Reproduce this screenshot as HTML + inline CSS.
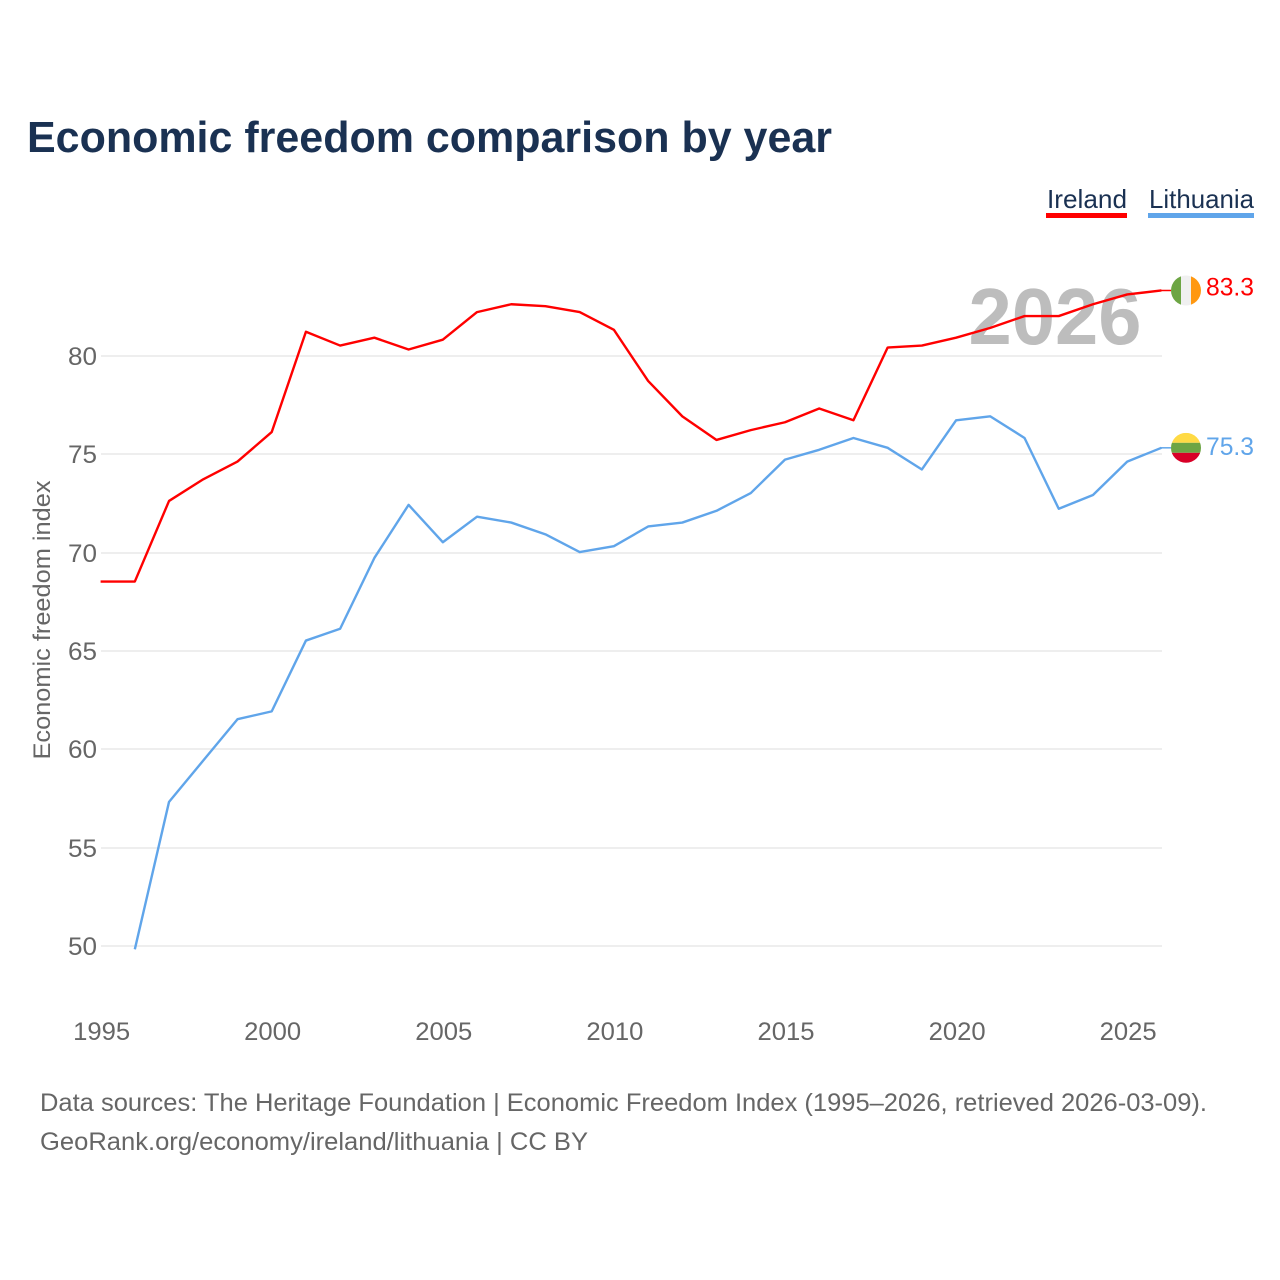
<!DOCTYPE html>
<html lang="en">
<head>
<meta charset="utf-8">
<title>Economic freedom comparison by year</title>
<style>
html,body{margin:0;padding:0;background:#fff;}
svg{display:block;font-family:"Liberation Sans",sans-serif;}
</style>
</head>
<body>
<svg id="chart" xmlns="http://www.w3.org/2000/svg" width="1280" height="1280" viewBox="0 0 1280 1280">
  <rect width="1280" height="1280" fill="#fff"/>
  <text x="27" y="152" font-size="44" font-weight="bold" fill="#1a3152" textLength="805" lengthAdjust="spacingAndGlyphs">Economic freedom comparison by year</text>

  <g>
    <text x="1047" y="208" font-size="26" fill="#1a3152" textLength="80" lengthAdjust="spacingAndGlyphs">Ireland</text>
    <rect x="1046" y="213" width="81" height="5" fill="#ff0000"/>
  </g>
  <g>
    <text x="1149" y="208" font-size="26" fill="#1a3152" textLength="105" lengthAdjust="spacingAndGlyphs">Lithuania</text>
    <rect x="1148" y="213" width="106" height="5" fill="#60a5ea"/>
  </g>

  <text x="1055" y="344" font-size="80" font-weight="bold" fill="#bdbdbd" text-anchor="middle" textLength="173" lengthAdjust="spacingAndGlyphs">2026</text>

  <g id="grid"></g>
  <g id="y-ticks"></g>
  <g id="x-ticks"></g>
  <text transform="translate(50,620) rotate(-90)" font-size="24" fill="#666" text-anchor="middle" textLength="279" lengthAdjust="spacingAndGlyphs">Economic freedom index</text>
  <g id="series"></g>

  <text x="40" y="1111" font-size="25" fill="#666" textLength="1167" lengthAdjust="spacingAndGlyphs">Data sources: The Heritage Foundation | Economic Freedom Index (1995–2026, retrieved 2026-03-09).</text>
  <text x="40" y="1150" font-size="25" fill="#666" textLength="548" lengthAdjust="spacingAndGlyphs">GeoRank.org/economy/ireland/lithuania | CC BY</text>
</svg>
<script>
var years = [1995,1996,1997,1998,1999,2000,2001,2002,2003,2004,2005,2006,2007,2008,2009,2010,2011,2012,2013,2014,2015,2016,2017,2018,2019,2020,2021,2022,2023,2024,2025,2026];
var irelandValues = [68.5,68.5,72.6,73.7,74.6,76.1,81.2,80.5,80.9,80.3,80.8,82.2,82.6,82.5,82.2,81.3,78.7,76.9,75.7,76.2,76.6,77.3,76.7,80.4,80.5,80.9,81.4,82,82,82.6,83.1,83.3];
var lithuaniaValues = [null,49.8,57.3,59.4,61.5,61.9,65.5,66.1,69.7,72.4,70.5,71.8,71.5,70.9,70,70.3,71.3,71.5,72.1,73,74.7,75.2,75.8,75.3,74.2,76.7,76.9,75.8,72.2,72.9,74.6,75.3];
var yTickValues = [50,55,60,65,70,75,80];
var xTickValues = [1995,2000,2005,2010,2015,2020,2025];

var NS = 'http://www.w3.org/2000/svg';
function xScale(year){ return 100.6 + (year - 1995) * 34.22; }
function yScale(value){ return 945.4 - (value - 50) * 19.667; }
function make(tag, attrs, parent, text){
  var el = document.createElementNS(NS, tag);
  for (var k in attrs) el.setAttribute(k, attrs[k]);
  if (text !== undefined) el.textContent = text;
  parent.appendChild(el);
  return el;
}

var gridG = document.getElementById('grid');
var yG = document.getElementById('y-ticks');
var xG = document.getElementById('x-ticks');
var seriesG = document.getElementById('series');

yTickValues.forEach(function(v){
  var gy = Math.round(yScale(v) + 0.6);
  var line = make('line', {x1:101, x2:1162, y1:gy, y2:gy, stroke:'#eeeeee', 'stroke-width':2}, gridG);
  
  
  var label = make('text', {x:97, y:gy+9, 'font-size':25, fill:'#666', 'text-anchor':'end', textLength:29, lengthAdjust:'spacingAndGlyphs'}, yG, String(v));
  
  
});

xTickValues.forEach(function(y){
  var label = make('text', {x:xScale(y)+1, y:1040, 'font-size':25, fill:'#666', 'text-anchor':'middle', textLength:57, lengthAdjust:'spacingAndGlyphs'}, xG, String(y));
  
  
});

function pathFor(values){
  var d = '', started = false;
  values.forEach(function(v, i){
    if (v === null) { started = false; return; }
    d += (started ? 'L' : 'M') + xScale(years[i]).toFixed(2) + ' ' + yScale(v).toFixed(2);
    started = true;
  });
  return d;
}

function lastValue(values){
  for (var i = values.length - 1; i >= 0; i--) if (values[i] !== null) return values[i];
  return null;
}

function flag(cy, clipId, stripes, parent){
  var defs = make('defs', {}, parent);
  var clip = make('clipPath', {id:clipId}, defs);
  make('circle', {cx:1186, cy:cy, r:15}, clip);
  var g = make('g', {'clip-path':'url(#' + clipId + ')'}, parent);
  stripes.forEach(function(s){
    if (s.dir === 'v') make('rect', {x:1171 + s.start, y:cy-15, width:s.size, height:30, fill:s.fill}, g);
    else make('rect', {x:1171, y:cy-15 + s.start, width:30, height:s.size, fill:s.fill}, g);
  });
  return g;
}

var irelandLine = make('path', {d:pathFor(irelandValues), fill:'none', stroke:'#ff0000', 'stroke-width':2.4, 'stroke-linejoin':'round'}, seriesG);



var lithuaniaLine = make('path', {d:pathFor(lithuaniaValues), fill:'none', stroke:'#60a5ea', 'stroke-width':2.4, 'stroke-linejoin':'round'}, seriesG);



var irelandEnd = yScale(lastValue(irelandValues));
var lithuaniaEnd = yScale(lastValue(lithuaniaValues));

var irelandConn = make('line', {x1:1161, x2:1171, y1:irelandEnd, y2:irelandEnd, stroke:'#ff0000', 'stroke-width':1.5}, seriesG);



var lithuaniaConn = make('line', {x1:1161, x2:1171, y1:lithuaniaEnd, y2:lithuaniaEnd, stroke:'#60a5ea', 'stroke-width':1.5}, seriesG);



var irelandFlag = flag(irelandEnd, 'clip-ie', [
  {dir:'v', start:0, size:10, fill:'#6da544'},
  {dir:'v', start:10, size:10, fill:'#f0f0f0'},
  {dir:'v', start:20, size:10, fill:'#ff9811'}
], seriesG);



var lithuaniaFlag = flag(lithuaniaEnd, 'clip-lt', [
  {dir:'h', start:0, size:10, fill:'#ffda44'},
  {dir:'h', start:10, size:10, fill:'#6da544'},
  {dir:'h', start:20, size:10, fill:'#d80027'}
], seriesG);



var irelandLabel = make('text', {x:1206, y:irelandEnd+5, 'font-size':25, fill:'#ff0000', textLength:48, lengthAdjust:'spacingAndGlyphs'}, seriesG, lastValue(irelandValues).toFixed(1));



var lithuaniaLabel = make('text', {x:1206, y:lithuaniaEnd+7, 'font-size':25, fill:'#60a5ea', textLength:48, lengthAdjust:'spacingAndGlyphs'}, seriesG, lastValue(lithuaniaValues).toFixed(1));


</script>
</body>
</html>
